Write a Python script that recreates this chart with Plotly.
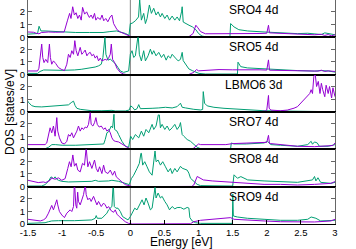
import plotly.graph_objects as go

# ---------------- data (energy [eV], DOS [states/eV]) ----------------
energy_ticks = [-1.5, -1, -0.5, 0, 0.5, 1, 1.5, 2, 2.5, 3]
energy_tick_labels = ["-1.5", "-1", "-0.5", "0", "0.5", "1", "1.5", "2", "2.5", "3"]
dos_ticks = [0, 1, 2]
panel_labels = ["SRO4 4d", "SRO5 4d", "LBMO6 3d", "SRO7 4d", "SRO8 4d", "SRO9 4d"]

sro4_purple = [(-1.5,0.42),(-1.45,0.42),(-1.42,0.40),(-1.38,0.32),(-1.34,0.28),(-1.30,0.38),(-1.2,0.42),(-1.1,0.40),
    (-1.0,0.40),(-0.97,0.42),(-0.92,1.35),(-0.89,1.88),(-0.87,1.48),(-0.845,2.4),(-0.82,1.75),(-0.795,1.93),(-0.77,1.48),
    (-0.745,1.75),(-0.72,1.35),(-0.70,2.35),(-0.67,1.82),(-0.64,2.0),(-0.62,1.75),(-0.60,1.56),(-0.575,1.75),(-0.55,1.48),
    (-0.525,1.88),(-0.505,1.35),(-0.48,1.56),(-0.44,1.40),(-0.415,1.75),(-0.39,1.30),(-0.36,1.48),(-0.33,1.22),(-0.295,1.60),
    (-0.27,1.75),(-0.245,1.08),(-0.22,0.82),(-0.195,0.60),(-0.147,0.42),(-0.098,0.29),(-0.049,0.18),(0.0,0.08),(0.074,0.02),
    (0.2,0.0),(0.5,0.0),(0.75,0.0),(0.85,0.02),(0.92,0.3),(0.96,0.95),(0.99,0.75),(1.03,0.45),(1.1,0.28),(1.3,0.27),
    (1.5,0.28),(1.7,0.3),(1.9,0.3),(2.0,0.32),(2.025,0.95),(2.04,0.35),(2.2,0.3),(2.4,0.26),(2.6,0.22),(2.7,0.2),
    (2.8,0.24),(2.85,0.15),(2.9,0.22),(2.95,0.12),(3.0,0.2)]
sro4_green = [(-1.5,0.25),(-1.40,0.25),(-1.36,0.3),(-1.338,0.87),(-1.32,0.55),(-1.31,0.50),(-1.25,0.50),(-1.1,0.46),
    (-1.0,0.42),(-0.98,0.40),(-0.8,0.38),(-0.6,0.38),(-0.4,0.38),(-0.3,0.45),(-0.27,0.48),(-0.2,0.5),(-0.15,0.42),
    (-0.1,0.35),(-0.07,0.30),(-0.02,0.15),(0.0,1.08),(0.025,1.10),(0.074,1.30),(0.12,1.6),(0.128,2.95),(0.137,2.95),
    (0.162,1.35),(0.196,1.88),(0.221,1.08),(0.245,1.48),(0.279,2.54),(0.309,1.88),(0.343,2.28),(0.377,1.75),(0.407,2.0),
    (0.441,1.6),(0.466,1.88),(0.505,1.48),(0.539,1.75),(0.574,1.35),(0.613,1.67),(0.652,1.35),(0.686,1.6),(0.721,1.3),
    (0.75,2.0),(0.76,2.4),(0.775,1.2),(0.81,1.08),(0.86,0.95),(0.91,0.82),(0.96,0.6),(1.0,0.3),(1.05,0.1),(1.1,0.05),
    (1.3,0.05),(1.46,0.05),(1.47,1.08),(1.52,0.82),(1.59,0.6),(1.72,0.5),(1.96,0.42),(2.2,0.34),(2.45,0.29),(2.6,0.32),
    (2.7,0.29),(2.8,0.22),(2.85,0.35),(2.9,0.29),(3.0,0.2)]

sro5_purple = [(-1.5,0.29),(-1.36,0.29),(-1.34,0.5),(-1.324,1.35),(-1.299,2.4),(-1.284,1.35),(-1.265,0.95),(-1.24,1.2),
    (-1.211,0.95),(-1.186,2.4),(-1.172,1.35),(-1.152,0.82),(-1.127,1.08),(-1.093,0.87),(-1.054,0.56),(-1.005,0.4),
    (-0.966,0.32),(-0.931,0.82),(-0.907,1.6),(-0.882,1.35),(-0.858,1.88),(-0.833,1.6),(-0.814,2.67),(-0.794,1.88),
    (-0.77,1.48),(-0.735,2.14),(-0.711,1.6),(-0.686,1.75),(-0.662,1.93),(-0.637,1.48),(-0.613,1.67),(-0.588,1.75),
    (-0.564,1.48),(-0.539,1.6),(-0.515,1.3),(-0.49,1.48),(-0.466,1.08),(-0.441,1.3),(-0.417,1.08),(-0.368,1.2),
    (-0.343,1.14),(-0.319,1.3),(-0.294,1.6),(-0.279,2.4),(-0.26,1.2),(-0.23,0.95),(-0.196,0.5),(-0.147,0.18),
    (-0.098,0.05),(-0.049,0.0),(0.85,0.0),(0.93,0.18),(0.97,0.4),(1.0,0.3),(1.1,0.35),(1.3,0.4),(1.5,0.38),(1.7,0.4),
    (1.9,0.38),(2.0,0.36),(2.025,1.16),(2.04,0.35),(2.2,0.33),(2.4,0.32),(2.6,0.3),(2.75,0.28),(2.8,0.35),(2.85,0.25),
    (2.9,0.3),(3.0,0.25)]
sro5_green = [(-1.5,0.1),(-1.36,0.1),(-1.324,0.25),(-1.3,0.3),(-1.27,0.37),(-1.0,0.34),(-0.93,0.34),(-0.82,0.37),
    (-0.72,0.42),(-0.62,0.48),(-0.564,0.56),(-0.515,0.6),(-0.466,0.69),(-0.426,0.82),(-0.402,1.35),(-0.38,2.95),
    (-0.372,2.95),(-0.358,1.6),(-0.328,1.14),(-0.294,1.22),(-0.26,1.08),(-0.221,0.87),(-0.181,0.56),(-0.147,0.29),
    (-0.098,0.18),(-0.025,0.29),(0.0,1.6),(0.025,1.88),(0.049,1.35),(0.074,1.48),(0.11,2.95),(0.117,2.95),(0.132,1.6),
    (0.162,1.08),(0.196,1.88),(0.221,1.08),(0.26,1.48),(0.294,2.0),(0.319,1.6),(0.343,1.88),(0.377,1.48),(0.417,1.75),
    (0.456,1.35),(0.49,1.6),(0.525,1.14),(0.554,1.48),(0.588,1.3),(0.613,1.6),(0.662,1.3),(0.701,1.08),(0.735,1.2),
    (0.76,1.75),(0.775,1.1),(0.81,0.85),(0.858,0.45),(0.907,0.32),(0.956,0.18),(1.005,0.1),(1.1,0.05),(1.3,0.05),
    (1.5,0.05),(1.57,0.05),(1.578,0.98),(1.618,0.63),(1.716,0.53),(1.96,0.45),(2.2,0.37),(2.45,0.32),(2.7,0.28),
    (2.8,0.32),(2.9,0.29),(3.0,0.2)]

lbmo6_purple = [(-1.5,0.02),(-0.5,0.01),(0.0,0.0),(1.5,0.01),(1.9,0.03),(1.98,0.08),(2.0,0.15),(2.025,1.3),(2.035,0.3),
    (2.06,0.15),(2.1,0.12),(2.2,0.1),(2.3,0.15),(2.35,0.2),(2.4,0.3),(2.45,0.42),(2.5,0.7),(2.55,0.95),(2.6,1.2),
    (2.63,1.45),(2.65,1.75),(2.67,1.45),(2.69,2.8),(2.71,2.95),(2.73,2.0),(2.755,2.4),(2.78,1.45),(2.8,2.25),(2.82,1.75),
    (2.85,1.2),(2.87,2.1),(2.9,1.45),(2.92,2.0),(2.95,1.1),(2.97,1.9),(3.0,1.2)]
lbmo6_green = [(-1.5,0.85),(-1.495,0.77),(-1.446,0.5),(-1.397,0.42),(-1.299,0.4),(-1.152,0.45),(-1.005,0.5),
    (-0.907,0.56),(-0.858,0.77),(-0.833,0.85),(-0.809,0.5),(-0.784,0.29),(-0.735,0.21),(-0.662,0.16),(-0.564,0.1),
    (-0.417,0.1),(-0.27,0.13),(-0.221,0.08),(-0.074,0.08),(-0.015,0.16),(0.005,0.48),(0.034,0.37),(0.064,0.16),
    (0.098,0.26),(0.123,0.58),(0.147,0.26),(0.221,0.26),(0.319,0.29),(0.417,0.32),(0.515,0.37),(0.613,0.32),(0.686,0.42),
    (0.735,0.69),(0.76,0.37),(0.81,0.32),(0.85,0.27),(0.93,0.21),(1.03,0.16),(1.06,0.2),(1.069,1.6),(1.08,0.9),
    (1.088,0.69),(1.127,0.48),(1.225,0.37),(1.373,0.29),(1.47,0.26),(1.716,0.16),(1.96,0.1),(2.2,0.08),(2.45,0.05),
    (2.7,0.03),(3.0,0.02)]

sro7_purple = [(-1.5,0.37),(-1.25,0.37),(-1.225,0.5),(-1.201,1.03),(-1.176,1.69),(-1.152,1.3),(-1.127,1.83),(-1.103,1.03),
    (-1.078,2.49),(-1.064,1.43),(-1.039,0.9),(-1.005,0.5),(-0.966,0.42),(-0.931,0.63),(-0.907,1.16),(-0.882,1.03),
    (-0.858,1.3),(-0.833,0.9),(-0.809,1.16),(-0.784,1.43),(-0.76,1.83),(-0.735,1.43),(-0.711,1.69),(-0.686,1.56),
    (-0.662,1.75),(-0.637,1.69),(-0.613,1.96),(-0.588,2.88),(-0.574,1.96),(-0.549,1.83),(-0.525,2.09),(-0.505,2.49),
    (-0.485,1.96),(-0.456,1.75),(-0.426,1.83),(-0.392,1.56),(-0.368,1.69),(-0.343,1.43),(-0.319,1.56),(-0.294,1.3),
    (-0.27,0.9),(-0.245,0.69),(-0.221,0.63),(-0.172,0.58),(-0.123,0.42),(-0.074,0.24),(-0.025,0.1),(0.025,0.0),
    (0.9,0.02),(0.93,0.1),(1.0,0.42),(1.03,0.37),(1.2,0.37),(1.4,0.37),(1.5,0.45),(1.7,0.5),(1.9,0.58),(2.0,0.55),
    (2.025,1.1),(2.04,0.45),(2.06,0.45),(2.2,0.37),(2.45,0.24),(2.7,0.21),(2.9,0.26),(2.97,0.3),(3.0,0.5)]
sro7_green = [(-1.5,0.05),(-1.25,0.05),(-1.2,0.16),(-1.15,0.37),(-1.1,0.37),(-1.0,0.32),(-0.8,0.32),(-0.56,0.37),
    (-0.46,0.37),(-0.39,0.42),(-0.368,0.77),(-0.343,1.3),(-0.319,1.38),(-0.279,1.83),(-0.26,1.69),(-0.25,2.75),
    (-0.24,2.75),(-0.23,1.56),(-0.196,1.43),(-0.172,1.16),(-0.123,0.63),(-0.074,0.24),(-0.025,0.16),(0.005,1.03),
    (0.034,0.77),(0.074,1.16),(0.123,0.9),(0.162,1.43),(0.196,1.03),(0.23,1.56),(0.27,1.3),(0.319,1.96),(0.343,1.56),
    (0.377,1.83),(0.41,2.7),(0.425,2.7),(0.441,1.69),(0.466,1.96),(0.505,1.56),(0.539,1.83),(0.574,1.48),(0.613,1.69),
    (0.652,1.96),(0.686,1.56),(0.721,1.83),(0.735,2.1),(0.76,1.16),(0.784,1.03),(0.833,0.77),(0.882,0.63),(0.931,0.37),
    (0.98,0.16),(1.03,0.05),(1.3,0.05),(1.47,0.05),(1.48,0.5),(1.52,0.42),(1.7,0.42),(1.96,0.5),(2.01,0.63),(2.06,0.37),
    (2.2,0.32),(2.45,0.24),(2.6,0.37),(2.65,0.63),(2.67,0.4),(2.7,0.58),(2.74,0.5),(2.77,0.24),(2.9,0.24),(3.0,0.37)]

sro8_purple = [(-1.5,0.5),(-1.42,0.42),(-1.35,0.32),(-1.275,0.37),(-1.24,0.32),(-1.176,0.5),(-1.152,0.69),(-1.103,0.58),
    (-1.054,0.69),(-1.005,0.5),(-0.956,0.63),(-0.917,1.43),(-0.892,1.96),(-0.868,1.56),(-0.843,2.49),(-0.819,1.61),
    (-0.794,1.83),(-0.77,1.3),(-0.735,1.16),(-0.701,1.83),(-0.672,1.69),(-0.65,2.93),(-0.645,2.93),(-0.623,1.56),
    (-0.598,1.96),(-0.564,1.43),(-0.525,2.09),(-0.5,1.43),(-0.475,1.16),(-0.451,1.56),(-0.417,1.03),(-0.392,1.69),
    (-0.368,1.16),(-0.328,1.03),(-0.294,1.3),(-0.26,0.9),(-0.23,1.22),(-0.206,0.77),(-0.172,0.58),(-0.123,0.37),
    (-0.074,0.16),(-0.015,0.05),(0.03,0.0),(0.9,0.02),(0.93,0.13),(0.98,0.8),(1.03,0.66),(1.07,0.53),(1.2,0.45),
    (1.47,0.34),(1.72,0.26),(1.96,0.18),(2.2,0.18),(2.45,0.13),(2.7,0.18),(2.94,0.26),(3.0,0.4)]
sro8_green = [(-1.5,0.05),(-1.3,0.05),(-1.25,0.16),(-1.2,0.42),(-1.162,0.77),(-1.127,0.63),(-1.103,0.77),(-1.078,0.58),
    (-1.054,0.5),(-1.005,0.42),(-0.907,0.37),(-0.76,0.37),(-0.564,0.42),(-0.515,0.5),(-0.466,0.42),(-0.319,0.45),
    (-0.27,0.5),(-0.172,0.42),(-0.074,0.24),(-0.015,0.16),(0.015,0.63),(0.049,0.9),(0.098,1.43),(0.132,1.83),
    (0.155,2.62),(0.162,2.62),(0.181,1.69),(0.211,1.96),(0.245,1.56),(0.279,1.16),(0.319,0.9),(0.355,2.8),(0.362,2.8),
    (0.377,1.96),(0.407,2.09),(0.441,1.69),(0.475,1.96),(0.515,1.56),(0.554,1.16),(0.588,1.43),(0.613,1.03),(0.652,1.43),
    (0.686,1.16),(0.735,1.6),(0.76,1.45),(0.833,1.3),(0.858,1.06),(0.882,0.66),(0.931,0.4),(0.98,0.18),(1.03,0.08),
    (1.2,0.05),(1.5,0.05),(1.52,0.93),(1.57,0.66),(1.62,0.79),(1.67,0.66),(1.72,0.53),(1.96,0.45),(2.2,0.4),(2.45,0.34),
    (2.67,0.53),(2.7,0.8),(2.72,0.45),(2.75,0.7),(2.79,0.34),(2.94,0.26),(3.0,0.34)]

sro9_purple = [(-1.5,0.37),(-1.4,0.32),(-1.32,0.24),(-1.275,0.32),(-1.24,0.45),(-1.2,0.85),(-1.176,1.24),(-1.152,1.46),
    (-1.127,1.11),(-1.103,1.5),(-1.078,1.9),(-1.064,1.5),(-1.039,0.98),(-1.005,0.71),(-0.966,0.5),(-0.931,0.85),
    (-0.907,0.98),(-0.882,1.11),(-0.858,0.98),(-0.833,1.37),(-0.822,2.96),(-0.815,2.96),(-0.799,1.5),(-0.785,1.24),
    (-0.772,2.5),(-0.76,1.77),(-0.735,1.5),(-0.711,1.9),(-0.686,2.3),(-0.665,2.96),(-0.658,2.96),(-0.647,2.3),
    (-0.623,1.9),(-0.598,2.04),(-0.574,1.77),(-0.539,2.17),(-0.515,1.9),(-0.49,1.5),(-0.466,1.77),(-0.426,1.37),
    (-0.392,1.64),(-0.368,1.5),(-0.343,1.24),(-0.319,1.37),(-0.279,1.03),(-0.245,0.92),(-0.221,1.11),(-0.196,0.77),
    (-0.162,0.58),(-0.123,0.4),(-0.074,0.18),(-0.025,0.05),(0.03,0.0),(0.88,0.02),(0.93,0.18),(1.03,0.29),(1.22,0.37),
    (1.37,0.45),(1.47,0.5),(1.52,0.37),(1.72,0.29),(1.96,0.24),(2.2,0.18),(2.45,0.16),(2.7,0.16),(2.94,0.24),(3.0,0.37)]
sro9_green = [(-1.5,0.05),(-1.3,0.05),(-1.25,0.1),(-1.2,0.18),(-1.152,0.24),(-1.054,0.26),(-0.819,0.26),(-0.564,0.32),
    (-0.515,0.45),(-0.5,0.66),(-0.485,0.45),(-0.417,0.45),(-0.343,0.85),(-0.319,1.11),(-0.294,1.24),(-0.27,1.37),
    (-0.255,2.83),(-0.247,2.83),(-0.235,1.37),(-0.211,1.24),(-0.181,1.24),(-0.147,0.98),(-0.113,0.58),(-0.074,0.45),
    (-0.034,0.32),(0.0,0.58),(0.025,0.85),(0.064,1.24),(0.098,1.11),(0.132,1.5),(0.172,1.9),(0.201,1.5),(0.23,2.04),
    (0.26,1.64),(0.294,1.11),(0.319,1.24),(0.355,2.88),(0.362,2.88),(0.377,2.04),(0.407,2.43),(0.441,2.04),(0.466,2.17),
    (0.505,1.77),(0.539,1.5),(0.574,1.11),(0.613,1.37),(0.652,1.19),(0.686,1.29),(0.735,1.3),(0.784,1.16),(0.833,1.3),
    (0.858,1.25),(0.873,0.5),(0.907,0.24),(0.956,0.1),(1.03,0.05),(1.3,0.05),(1.495,0.05),(1.502,2.35),(1.51,0.63),
    (1.569,0.55),(1.642,0.5),(1.716,0.45),(1.96,0.37),(2.2,0.29),(2.45,0.29),(2.6,0.37),(2.65,0.55),(2.72,0.45),
    (2.79,0.24),(3.0,0.29)]

purple_series = [sro4_purple, sro5_purple, lbmo6_purple, sro7_purple, sro8_purple, sro9_purple]
green_series = [sro4_green, sro5_green, lbmo6_green, sro7_green, sro8_green, sro9_green]

# ---------------- figure ----------------
PURPLE = "#9400d3"
GREEN = "#009e73"
FONT = "Liberation Sans, Arial, sans-serif"
n = len(panel_labels)

fig = go.Figure()
layout = dict(
    width=356, height=249, autosize=False,
    margin=dict(l=28, r=21, t=0, b=25, pad=0),
    paper_bgcolor="white", plot_bgcolor="white",
    font=dict(family=FONT, size=9, color="black"),
    showlegend=False,
    annotations=[], shapes=[],
)

for k in range(n):
    sfx = "" if k == 0 else str(k + 1)
    for series, color in ((green_series[k], GREEN), (purple_series[k], PURPLE)):
        fig.add_trace(go.Scatter(
            x=[p[0] for p in series], y=[p[1] for p in series], mode="lines",
            line=dict(color=color, width=1), xaxis="x" + sfx, yaxis="y" + sfx,
            hoverinfo="skip", showlegend=False))
    top = 1 - k / n
    bot = 1 - (k + 1) / n
    last = (k == n - 1)
    xa = dict(domain=[0, 1], anchor="y" + sfx, range=[-1.5, 3], showgrid=False, zeroline=False,
              showline=True, linecolor="black", linewidth=1, mirror=True,
              tickvals=energy_ticks, ticktext=energy_tick_labels,
              ticks="inside" if last else "", ticklen=4, tickcolor="black",
              showticklabels=last, tickfont=dict(size=9.5))
    if k > 0:
        xa["matches"] = "x"
    ya = dict(domain=[bot, top], anchor="x" + sfx, range=[0, 2.93], showgrid=False, zeroline=False,
              showline=True, linecolor="#666666", linewidth=1, mirror="ticks",
              tickvals=dos_ticks, ticks="inside", ticklen=4, tickcolor="#666666",
              tickfont=dict(size=9.5))
    layout["xaxis" + sfx] = xa
    layout["yaxis" + sfx] = ya
    layout["annotations"].append(dict(
        x=1.8, y=2.15, xref="x" + sfx, yref="y" + sfx, text=panel_labels[k], showarrow=False,
        xanchor="center", yanchor="middle", font=dict(size=12, family=FONT, color="black")))

layout["shapes"].append(dict(type="line", xref="x", yref="paper", x0=0, x1=0, y0=0, y1=1,
                             line=dict(color="#808080", width=1), layer="below"))
layout["annotations"].append(dict(
    x=0.5, y=0, xref="paper", yref="paper", text="Energy [eV]", showarrow=False,
    xanchor="center", yanchor="middle", yshift=-18, font=dict(size=12, family=FONT, color="black")))
layout["annotations"].append(dict(
    x=0, y=0.5, xref="paper", yref="paper", text="DOS [states/eV]", showarrow=False, textangle=-90,
    xanchor="center", yanchor="middle", xshift=-18, font=dict(size=12, family=FONT, color="black")))

fig.update_layout(**layout)
fig.write_html("out.html", config={"displayModeBar": False, "staticPlot": True},
               post_script="document.body.style.margin='0px';document.body.style.padding='0px';")
